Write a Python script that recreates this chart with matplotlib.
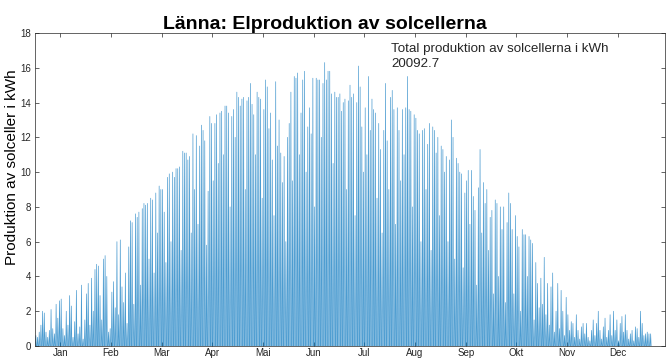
import matplotlib
matplotlib.use('Agg')
import matplotlib.pyplot as plt
import numpy as np

plt.rcParams['font.family'] = ['Liberation Sans', 'DejaVu Sans']

# Dagliga toppvärden (kW), en lista per månad
jan = [0.6, 0.5, 0.8, 1.2, 2.0, 1.9, 0.8, 0.5, 0.9, 2.1, 1.0, 0.7, 2.4, 1.6, 2.6, 2.7,
       1.0, 0.6, 2.0, 1.2, 2.9, 2.3, 0.5, 1.4, 3.2, 0.7, 1.1, 3.5, 0.4, 1.5, 3.0]
feb = [3.6, 1.2, 3.9, 2.0, 4.4, 4.7, 4.6, 2.9, 1.5, 5.0, 5.2, 4.0, 0.8, 1.0, 3.1, 3.7,
       2.2, 6.0, 1.8, 6.1, 3.4, 2.5, 4.2, 1.3, 5.7, 7.2, 7.1, 2.4]
mar = [7.6, 7.4, 7.7, 3.5, 7.9, 8.2, 8.1, 8.2, 5.0, 8.5, 8.4, 4.2, 8.8, 6.5, 9.2, 9.0,
       9.0, 7.7, 4.8, 9.7, 9.9, 6.0, 10.0, 9.7, 10.2, 10.2, 10.3, 5.5, 11.2, 11.1, 11.1]
apr = [10.7, 10.9, 6.5, 12.2, 9.0, 12.1, 7.0, 11.5, 12.7, 12.4, 11.8, 5.8, 8.9, 13.2, 12.8,
       9.5, 12.8, 13.3, 10.5, 13.4, 13.5, 11.0, 13.8, 13.8, 13.4, 8.0, 13.2, 13.6, 12.0, 14.6]
maj = [14.3, 13.8, 14.2, 14.3, 9.0, 14.1, 14.3, 15.1, 13.9, 13.3, 11.0, 14.6, 14.3, 14.2, 8.5,
       13.6, 15.3, 14.9, 12.5, 13.4, 10.7, 7.5, 15.2, 11.5, 13.0, 11.1, 9.4, 10.9, 6.0, 12.0, 12.8]
jun = [14.6, 9.5, 15.5, 15.4, 15.7, 11.0, 13.4, 15.3, 15.8, 10.0, 12.6, 13.7, 12.2, 15.4, 8.0,
       15.4, 15.3, 15.3, 12.0, 15.1, 16.3, 15.3, 15.8, 15.8, 14.5, 10.5, 14.6, 14.3, 14.3, 14.5]
jul = [13.5, 14.0, 14.2, 9.0, 14.1, 15.0, 14.3, 14.5, 7.5, 14.0, 16.1, 14.9, 12.6, 10.0, 13.7,
       11.0, 15.5, 12.4, 14.2, 13.6, 13.4, 8.5, 12.8, 11.3, 6.5, 12.4, 15.1, 11.8, 9.0, 14.3, 14.7]
aug = [13.6, 7.0, 13.7, 12.4, 9.5, 13.6, 11.0, 13.7, 15.5, 13.6, 13.5, 8.0, 13.3, 13.1, 12.4,
       12.2, 6.0, 12.4, 12.5, 9.0, 11.6, 12.8, 5.5, 12.6, 12.4, 11.1, 12.0, 7.5, 11.5, 11.3, 10.0]
sep = [10.9, 6.0, 10.7, 13.0, 12.0, 5.0, 10.8, 10.5, 10.0, 9.9, 4.5, 8.8, 9.5, 10.1, 7.0,
       10.1, 8.6, 7.8, 3.5, 9.1, 11.3, 6.5, 9.4, 8.2, 9.0, 5.5, 7.4, 7.8, 3.0, 8.4]
okt = [8.2, 4.0, 8.0, 6.7, 8.0, 2.5, 7.1, 8.8, 8.2, 6.7, 3.0, 7.5, 6.3, 5.7, 2.0, 6.7,
       6.4, 6.4, 4.0, 6.3, 6.1, 5.9, 1.5, 4.8, 3.6, 2.2, 3.9, 2.4, 5.1, 1.8, 3.6]
nov = [1.2, 3.4, 4.2, 0.8, 2.0, 3.6, 1.0, 3.2, 2.0, 0.6, 2.8, 1.8, 0.9, 1.4, 1.3, 0.5,
       1.8, 0.9, 0.4, 1.1, 1.3, 0.7, 1.3, 0.5, 0.3, 0.9, 1.5, 0.6, 1.3, 2.0]
dec = [0.9, 0.4, 1.1, 1.6, 0.5, 0.9, 1.8, 0.6, 2.0, 0.9, 1.5, 0.3, 1.3, 1.7, 0.8, 1.8,
       0.9, 0.4, 0.7, 0.9, 0.3, 1.1, 1.0, 0.5, 2.0, 1.3, 0.6, 0.7, 0.8, 0.7, 0.7]

manader = ['Jan', 'Feb', 'Mar', 'Apr', 'Mai', 'Jun', 'Jul', 'Aug', 'Sep', 'Okt', 'Nov', 'Dec']
total_kwh = 20092.7

topp = np.array(jan + feb + mar + apr + maj + jun + jul + aug + sep + okt + nov + dec)
dag = np.arange(len(topp))

# Varje dag: noll på morgonen, topp mitt på dagen, noll på kvällen
x = np.column_stack([dag + 0.2, dag + 0.5, dag + 0.8]).ravel()
y = np.column_stack([np.zeros_like(topp), topp, np.zeros_like(topp)]).ravel()

fig = plt.figure(figsize=(6.67, 3.58), dpi=100)
ax = fig.add_axes([0.0525, 0.0335, 0.9445, 0.8743])

ax.plot(x, y, color='#0072BD', lw=0.5, alpha=0.7)

ax.set_xlim(0, 373)
ax.set_ylim(0, 18)
ax.set_yticks(range(0, 19, 2))
ax.set_xticks([15 + 30 * i for i in range(12)])
ax.set_xticklabels(manader)

for s in ax.spines.values():
    s.set_color('#262626')
    s.set_linewidth(0.5)
ax.tick_params(direction='in', length=3, width=0.5, colors='#262626',
               labelsize=7, top=True, right=True, pad=3)
ax.tick_params(axis='x', pad=1.5)

fig.text(325 / 667, 1 - 29 / 358, 'Länna: Elproduktion av solcellerna',
         fontsize=14, fontweight='bold', ha='center', va='baseline')
ax.set_ylabel('Produktion av solceller i kWh', fontsize=11)
ax.yaxis.set_label_coords(-0.025, 0.572)

ax.text(0.565, 0.968, 'Total produktion av solcellerna i kWh\n' + str(total_kwh),
        transform=ax.transAxes, fontsize=9.6, va='top', ha='left',
        color='#262626', linespacing=1.3)

plt.savefig('out.png', dpi=100)
